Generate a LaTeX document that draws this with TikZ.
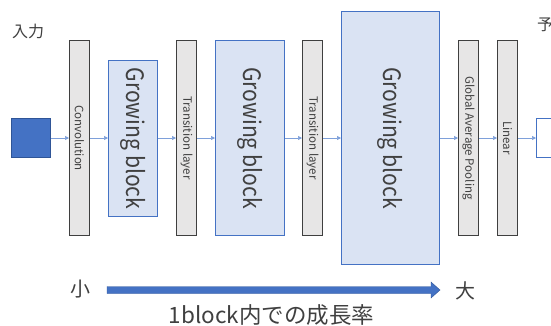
\documentclass[tikz,border=0pt]{standalone}
\usepackage{fontspec}
\setmainfont{Noto Sans CJK JP}
\usetikzlibrary{arrows.meta}
\definecolor{accent}{HTML}{4472C4}
\definecolor{accentdark}{HTML}{2F5597}
\definecolor{paleblue}{HTML}{DAE3F3}
\definecolor{linkblue}{HTML}{7EA0DA}
\definecolor{barfill}{HTML}{E7E6E6}
\definecolor{bardraw}{HTML}{3F3F3F}
\definecolor{txt}{HTML}{404040}
\tikzset{
  layerbar/.style={draw=bardraw, fill=barfill, line width=1pt, minimum width=20pt, minimum height=195pt, inner sep=0pt, anchor=north west},
  growbox/.style={draw=accent, fill=paleblue, line width=0.8pt, inner sep=0pt, anchor=north west},
  bartext/.style={rotate=-90, font=\fontsize{11.5}{11.5}\selectfont, text=txt},
  growtext/.style={rotate=-90, xscale=0.88, font=\fontsize{24}{24}\selectfont, text=txt},
  link/.style={draw=linkblue, line width=0.7pt, -{Triangle[length=4pt,width=4pt]}},
  jlabel/.style={font=\fontsize{16}{16}\selectfont, text=txt, inner sep=0pt}
}
\begin{document}
\begin{tikzpicture}[x=1pt,y=-1pt]
\clip (0,0) rectangle (551,325);
\useasboundingbox (0,0) rectangle (551,325);

% input and output squares
\node[draw=accentdark, fill=accent, line width=0.8pt, minimum width=39pt, minimum height=39pt, inner sep=0pt, anchor=north west] (inp) at (11,118) {};
\node[draw=accent, fill=white, line width=1pt, minimum width=39pt, minimum height=39pt, inner sep=0pt, anchor=north west] (outp) at (536,118) {};

% layers
\node[layerbar] (conv) at (69,40) {};
\node[bartext] at (conv.center) {Convolution};
\node[growbox, minimum width=49pt, minimum height=156pt] (gb1) at (108,60) {};
\node[growtext] at (gb1.center) {Growing block};
\node[layerbar] (tl1) at (176,40) {};
\node[bartext] at (tl1.center) {Transition layer};
\node[growbox, minimum width=69pt, minimum height=195pt] (gb2) at (215,40) {};
\node[growtext] at (gb2.center) {Growing block};
\node[layerbar] (tl2) at (302,40) {};
\node[bartext] at (tl2.center) {Transition layer};
\node[growbox, minimum width=98pt, minimum height=253pt] (gb3) at (341,11) {};
\node[growtext] at (gb3.center) {Growing block};
\node[layerbar] (gap) at (458,40) {};
\node[bartext] at (gap.center) {Global Average Pooling};
\node[layerbar] (lin) at (497,40) {};
\node[bartext] at (lin.center) {Linear};

% connectors along the data path
\coordinate (mid) at (0,138);
\foreach \a/\b in {inp/conv, conv/gb1, gb1/tl1, tl1/gb2, gb2/tl2, tl2/gb3, gb3/gap, gap/lin, lin/outp}{
  \draw[link] (\a.east |- mid) -- (\b.west |- mid);
}

% labels
\node[jlabel, anchor=west] (inlabel) at (12,31) {入力};
\node[jlabel, anchor=west] (outlabel) at (537,24) {予測};

% growth-rate scale
\node[jlabel, font=\fontsize{20}{20}\selectfont] (small) at (80,289) {小};
\node[jlabel, font=\fontsize{20}{20}\selectfont] (large) at (465,291) {大};
\coordinate (sa) at (107,290);
\coordinate (sb) at (440,290);
\fill[accent, draw=accentdark, line width=0.4pt]
  ([yshift=-3.5pt]sa) -- ([xshift=-9pt,yshift=-3.5pt]sb) -- ([xshift=-9pt,yshift=-8pt]sb)
  -- (sb) -- ([xshift=-9pt,yshift=8pt]sb) -- ([xshift=-9pt,yshift=3.5pt]sb)
  -- ([yshift=3.5pt]sa) -- cycle;
\node[jlabel, font=\fontsize{22.5}{22.5}\selectfont] (caption) at (271.5,315) {1block内での成長率};
\end{tikzpicture}
\end{document}
